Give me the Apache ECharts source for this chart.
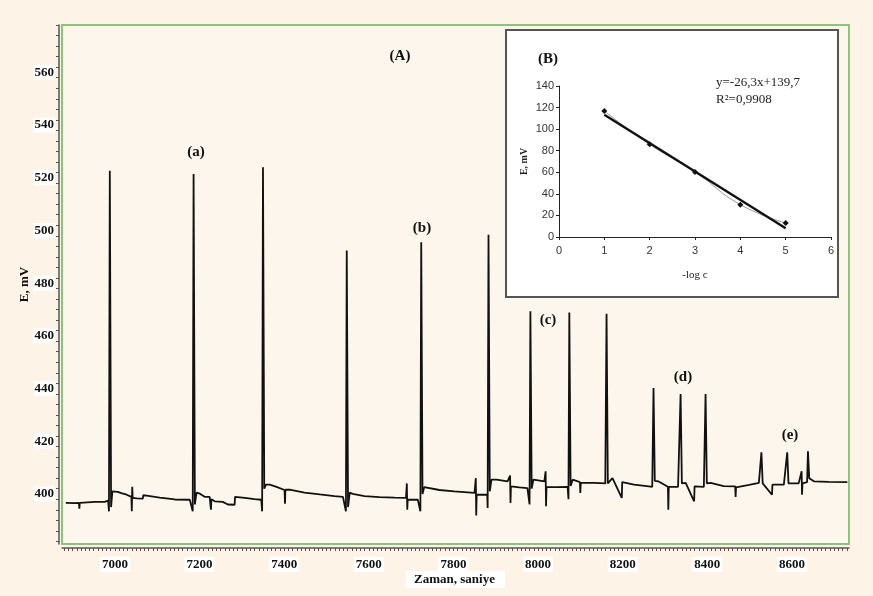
<!DOCTYPE html>
<html>
<head>
<meta charset="utf-8">
<script src="https://cdn.jsdelivr.net/npm/echarts@6/dist/echarts.min.js"></script>
<style>
  html, body { margin: 0; padding: 0; background: #fdf3e6; }
  #chart { width: 873px; height: 596px; }
</style>
</head>
<body>
<div id="chart"></div>
<script>
// main trace: time (s) and potential (mV)
const timeS = [
  6884, 6906, 6915, 6916, 6917, 6953, 6976, 6984, 6986, 6988, 6991, 6994,
  7007, 7017, 7028, 7039, 7040, 7041, 7042, 7052, 7066, 7067, 7075, 7106, 7142, 7177, 7184,
  7186, 7189, 7193, 7201, 7212, 7224, 7227, 7228, 7236, 7255, 7267, 7283, 7284, 7307, 7330, 7346, 7348,
  7350, 7353, 7357, 7366, 7382, 7401, 7402, 7403, 7413, 7448, 7484, 7519, 7539, 7546,
  7548, 7551, 7555, 7562, 7590, 7625, 7661, 7688, 7690, 7691, 7692, 7716, 7722,
  7724, 7727, 7731, 7767, 7802, 7850, 7853, 7854, 7855, 7880, 7881,
  7883, 7886, 7890, 7902, 7928, 7934, 7935, 7936, 7956, 7975, 7980,
  7982, 7985, 7989, 8015, 8018, 8019, 8020, 8045, 8070, 8072,
  8074, 8077, 8082, 8099, 8100, 8101, 8133, 8159,
  8162, 8165, 8176, 8198, 8199, 8227, 8262, 8270,
  8273, 8276, 8284, 8307, 8308, 8309, 8331,
  8337, 8340, 8349, 8369, 8370, 8392,
  8396, 8399, 8408, 8439, 8466, 8467, 8468, 8499, 8522,
  8528, 8531, 8553, 8554, 8581,
  8589, 8592, 8616, 8623, 8624, 8625, 8636,
  8638, 8641, 8652, 8687, 8731
];
const potentialMV = [
  396.6, 396.5, 396.6, 394.4, 396.6, 397.0, 397.0, 397.5, 393.4, 522.7, 395.0, 401.0,
  400.8, 400.2, 399.7, 398.9, 393.4, 402.7, 398.5, 398.3, 398.2, 399.5, 399.4, 398.6, 397.9, 397.8, 393.4,
  521.4, 396.0, 400.5, 400.1, 398.9, 398.9, 394.0, 398.0, 397.2, 397.0, 396.0, 395.9, 398.9, 398.5, 398.0, 397.8, 393.4,
  524.0, 402.0, 403.5, 403.5, 402.7, 401.5, 396.3, 401.6, 401.6, 400.5, 399.8, 399.2, 398.9, 393.4,
  492.4, 395.0, 400.5, 400.0, 399.2, 398.8, 398.6, 398.5, 404.0, 394.0, 397.8, 397.8, 393.4,
  495.5, 400.0, 402.6, 401.5, 401.0, 400.4, 406.0, 391.8, 399.7, 399.7, 394.7,
  498.4, 401.0, 405.4, 405.4, 404.8, 407.0, 396.6, 402.9, 402.5, 402.2, 396.0,
  469.3, 402.0, 405.4, 404.8, 408.6, 395.3, 402.7, 402.6, 402.7, 398.0,
  468.9, 403.0, 405.4, 404.5, 400.4, 404.2, 404.2, 404.0,
  468.4, 404.0, 406.0, 398.5, 404.5, 403.5, 402.9, 402.7,
  440.2, 405.0, 404.8, 402.7, 394.0, 402.7, 402.7,
  437.9, 404.0, 404.2, 397.2, 402.9, 402.7,
  437.9, 404.0, 404.2, 403.0, 402.9, 398.9, 402.5, 403.4, 404.2,
  415.8, 404.0, 399.7, 403.5, 403.5,
  415.8, 404.0, 404.0, 408.6, 399.7, 404.0, 404.5,
  416.2, 406.0, 404.8, 404.6, 404.5
];
const mainXLabels = [7000, 7200, 7400, 7600, 7800, 8000, 8200, 8400, 8600];
const mainYLabels = [400, 420, 440, 460, 480, 500, 520, 540, 560];

// inset (B): calibration
const logC = [1, 2, 3, 4, 5];
const insetE = [116.8, 86.0, 60.3, 30.0, 13.0];
const fitX = [1, 5];
const fitE = [113.4, 8.2];

const xMinorTicks = [];
for (let t = 6880; t <= 8730; t += 10) xMinorTicks.push(t);
const yMinorTicks = [];
for (let v = 382; v <= 578; v += 4) yMinorTicks.push(v);

const serifBold = { fontFamily: 'Liberation Serif', fontWeight: 'bold', color: '#111' };

const myChart = echarts.init(document.getElementById('chart'));
const option = {
  backgroundColor: '#fdf3e6',
  animation: false,
  grid: [
    {
      left: 62, right: 24, top: 25, bottom: 52, outerBoundsMode: 'none',
      show: true, backgroundColor: '#fdf6ec', borderColor: '#93bf7f', borderWidth: 2
    },
    { left: 559, right: 42, top: 86, bottom: 359, outerBoundsMode: 'none' }
  ],
  xAxis: [
    {
      type: 'value', gridIndex: 0, min: 6875, max: 8735, offset: 4,
      splitLine: { show: false },
      axisLine: { show: true, lineStyle: { color: '#555', width: 1.5 } },
      axisTick: { show: true, customValues: xMinorTicks, length: 3, lineStyle: { color: '#555' } },
      axisLabel: {
        customValues: mainXLabels, formatter: v => String(v), margin: 9, fontSize: 13,
        backgroundColor: '#fff', padding: [1, 2], ...serifBold
      },
      name: 'Zaman, saniye', nameLocation: 'middle', nameGap: 23, nameMoveOverlap: false,
      nameTextStyle: { fontSize: 13, backgroundColor: '#fff', padding: [2, 10, 2, 8], ...serifBold }
    },
    {
      type: 'value', gridIndex: 1, min: 0, max: 6, interval: 1, z: 5,
      splitLine: { show: false },
      axisLine: { lineStyle: { color: '#222' } },
      axisTick: { length: 3, lineStyle: { color: '#222' } },
      axisLabel: { fontFamily: 'Liberation Sans', fontSize: 11, color: '#333', margin: 8 },
      name: '-log c', nameLocation: 'middle', nameGap: 33, nameMoveOverlap: false,
      nameTextStyle: { fontFamily: 'Liberation Serif', fontSize: 11, color: '#222' }
    }
  ],
  yAxis: [
    {
      type: 'value', gridIndex: 0, min: 381, max: 578, offset: 3,
      splitLine: { show: false },
      axisLine: { show: true, lineStyle: { color: '#555', width: 1.5 } },
      axisTick: { show: true, customValues: yMinorTicks, length: 3, lineStyle: { color: '#555' } },
      axisLabel: {
        customValues: mainYLabels, margin: 4, fontSize: 13, backgroundColor: '#fff', padding: [1, 1],
        ...serifBold
      },
      name: 'E, mV', nameLocation: 'middle', nameGap: 28, nameMoveOverlap: false,
      nameTextStyle: { fontSize: 13, ...serifBold }
    },
    {
      type: 'value', gridIndex: 1, min: 0, max: 140, interval: 20, z: 5,
      splitLine: { show: false },
      axisLine: { show: true, lineStyle: { color: '#222' } },
      axisTick: { show: true, length: 3, lineStyle: { color: '#222' } },
      axisLabel: { fontFamily: 'Liberation Sans', fontSize: 11, color: '#333', margin: 5 },
      name: 'E, mV', nameLocation: 'middle', nameGap: 30,
      nameTextStyle: { fontFamily: 'Liberation Serif', fontWeight: 'bold', fontSize: 10, color: '#222' }
    }
  ],
  graphic: [
    { type: 'rect', z: 1, shape: { x: 506, y: 30, width: 332, height: 267 },
      style: { fill: '#fff', stroke: '#555', lineWidth: 2 } },
    { type: 'text', z: 10, x: 400, y: 56, style: { text: '(A)', font: 'bold 15px "Liberation Serif"', fill: '#111', align: 'center', verticalAlign: 'middle' } },
    { type: 'text', z: 10, x: 196, y: 152, style: { text: '(a)', font: 'bold 15px "Liberation Serif"', fill: '#111', align: 'center', verticalAlign: 'middle' } },
    { type: 'text', z: 10, x: 422, y: 228, style: { text: '(b)', font: 'bold 15px "Liberation Serif"', fill: '#111', align: 'center', verticalAlign: 'middle' } },
    { type: 'text', z: 10, x: 548, y: 320, style: { text: '(c)', font: 'bold 15px "Liberation Serif"', fill: '#111', align: 'center', verticalAlign: 'middle' } },
    { type: 'text', z: 10, x: 683, y: 377, style: { text: '(d)', font: 'bold 15px "Liberation Serif"', fill: '#111', align: 'center', verticalAlign: 'middle' } },
    { type: 'text', z: 10, x: 790, y: 435, style: { text: '(e)', font: 'bold 15px "Liberation Serif"', fill: '#111', align: 'center', verticalAlign: 'middle' } },
    { type: 'text', z: 10, x: 548, y: 59, style: { text: '(B)', font: 'bold 15px "Liberation Serif"', fill: '#111', align: 'center', verticalAlign: 'middle' } },
    { type: 'text', z: 10, x: 716, y: 83, style: { text: 'y=-26,3x+139,7', font: '13px "Liberation Serif"', fill: '#222', verticalAlign: 'middle' } },
    { type: 'text', z: 10, x: 716, y: 100, style: { text: 'R²=0,9908', font: '13px "Liberation Serif"', fill: '#222', verticalAlign: 'middle' } }
  ],
  series: [
    {
      type: 'line', xAxisIndex: 0, yAxisIndex: 0,
      data: timeS.map((t, i) => [t, potentialMV[i]]),
      showSymbol: false,
      lineStyle: { color: '#111', width: 1.8 },
      z: 2
    },
    {
      type: 'line', xAxisIndex: 1, yAxisIndex: 1, z: 6,
      data: logC.map((x, i) => [x, insetE[i]]),
      smooth: true,
      symbol: 'diamond', symbolSize: 6,
      itemStyle: { color: '#111' },
      lineStyle: { color: '#999', width: 1 }
    },
    {
      type: 'line', xAxisIndex: 1, yAxisIndex: 1, z: 7,
      data: fitX.map((x, i) => [x, fitE[i]]),
      showSymbol: false,
      lineStyle: { color: '#111', width: 2.4 }
    }
  ]
};
myChart.setOption(option);
</script>
</body>
</html>
